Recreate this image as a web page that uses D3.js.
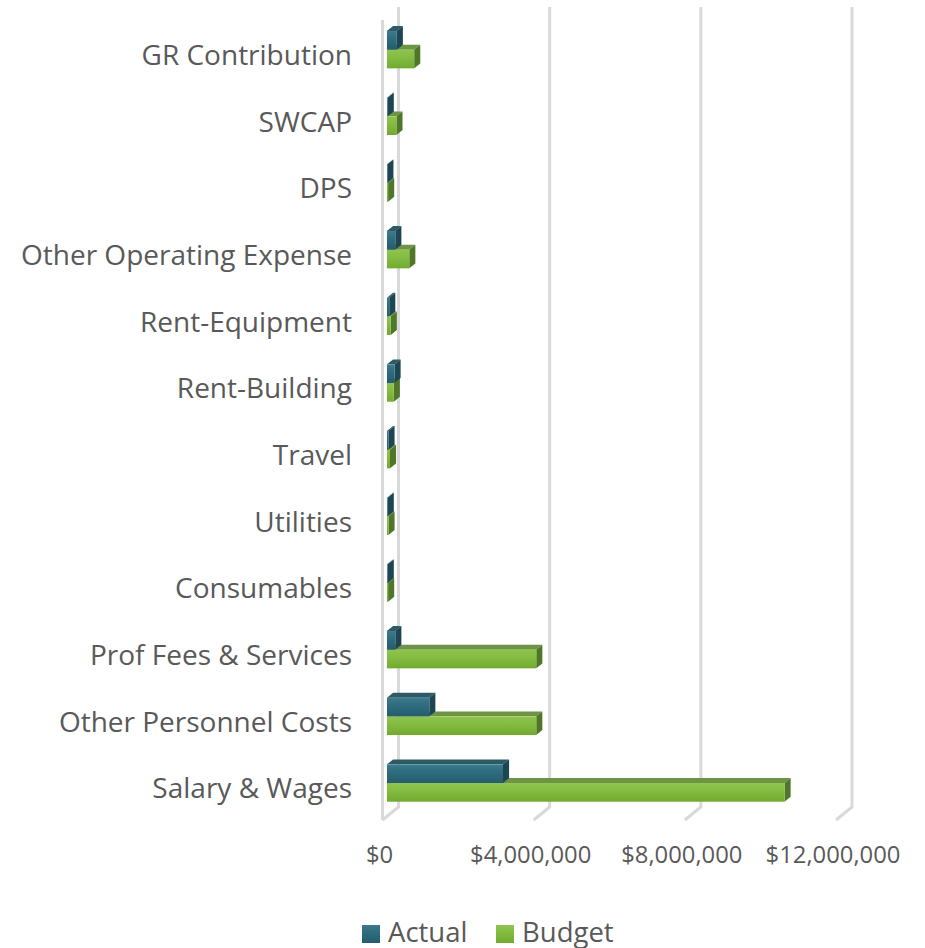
<!DOCTYPE html>
<html lang="en">
<head>
  <meta charset="utf-8" />
  <title>Actual vs Budget</title>
  <style type="text/css">
    body { margin: 0; background: #fff; }
    text { font-family: "Open Sans", sans-serif; fill: #595959; }
  </style>
</head>
<body>
  <div id="graphic"></div>

  <script src="https://cdn.jsdelivr.net/npm/d3@7/dist/d3.min.js" type="text/javascript"></script>
  <script>
    // chart data
    var categories = ["GR Contribution", "SWCAP", "DPS", "Other Operating Expense", "Rent-Equipment",
      "Rent-Building", "Travel", "Utilities", "Consumables", "Prof Fees & Services",
      "Other Personnel Costs", "Salary & Wages"];
    var actual = [260000, 20000, 10000, 220000, 60000, 200000, 40000, 20000, 20000, 220000, 1120000, 3070000];
    var budget = [720000, 250000, 30000, 590000, 100000, 180000, 80000, 40000, 30000, 3950000, 3950000, 10520000];
    var seriesNames = ["Actual", "Budget"];
    var tickValues = [0, 4000000, 8000000, 12000000];

    var width = 925, height = 948;
    var svg = d3.select('#graphic').append('svg')
      .attr('width', width).attr('height', height);

    // 3d depth of the plot box (front -> back wall)
    var depth = {dx: 16, dy: -13};
    var barDepth = {f0: 0.28, f1: 0.66};

    var x = d3.scaleLinear().domain([0, 12000000]).range([382.5, 836]);
    var y = d3.scaleBand().domain(categories).range([20, 820]).paddingInner(0.44).paddingOuter(0.22);

    var defs = svg.append('defs');
    function grad(id, stops) {
      var g = defs.append('linearGradient').attr('id', id)
        .attr('x1', 0).attr('y1', 0).attr('x2', 0).attr('y2', 1);
      stops.forEach(function(s){ g.append('stop').attr('offset', s[0]).attr('stop-color', s[1]); });
    }
    grad('gActual', [[0, '#3d7a8c'], [0.35, '#2f6e80'], [1, '#245d6d']]);
    grad('gBudget', [[0, '#8fc450'], [0.35, '#86bd43'], [1, '#72aa2f']]);

    var colours = {
      Actual: {front: 'url(#gActual)', top: '#2c5a67', side: '#1e4652'},
      Budget: {front: 'url(#gBudget)', top: '#6d9445', side: '#4f7629'}
    };

    // gridlines: back wall verticals + floor diagonals, left wall edge
    var grid = svg.append('g').attr('stroke', '#d9d9d9').attr('stroke-width', 3).attr('fill', 'none');
    var yTop = y.range()[0], yBot = y.range()[1];
    grid.selectAll('.back').data(tickValues).enter().append('path')
      .attr('d', function(d){
        var xb = x(d) + depth.dx;
        return 'M' + xb + ',' + (yTop + depth.dy) + 'V' + (yBot + depth.dy) + 'L' + x(d) + ',' + yBot;
      });
    grid.append('path').attr('d', 'M' + x(0) + ',' + yTop + 'V' + yBot);

    // bars
    var barH = y.bandwidth() / 2;
    var bars = svg.append('g');
    function drawBar(cat, value, series, idx) {
      var c = colours[series];
      var ox = barDepth.f0 * depth.dx, oy = barDepth.f0 * depth.dy;
      var bx = (barDepth.f1 - barDepth.f0) * depth.dx, by = (barDepth.f1 - barDepth.f0) * depth.dy;
      var x0 = x(0) + ox, x1 = x(value) + ox;
      var y0 = y(cat) + oy + idx * barH, y1 = y0 + barH;
      var g = bars.append('g');
      g.append('path').attr('fill', c.top)
        .attr('d', 'M' + x0 + ',' + y0 + 'L' + (x0 + bx) + ',' + (y0 + by) + 'L' + (x1 + bx) + ',' + (y0 + by) + 'L' + x1 + ',' + y0 + 'Z');
      g.append('path').attr('fill', c.side)
        .attr('d', 'M' + x1 + ',' + y0 + 'L' + (x1 + bx) + ',' + (y0 + by) + 'L' + (x1 + bx) + ',' + (y1 + by) + 'L' + x1 + ',' + y1 + 'Z');
      g.append('rect').attr('fill', c.front)
        .attr('x', x0).attr('y', y0).attr('width', Math.max(0, x1 - x0)).attr('height', barH);
    }
    categories.forEach(function(cat, i){
      drawBar(cat, budget[i], 'Budget', 1);
      drawBar(cat, actual[i], 'Actual', 0);
    });

    // category labels
    svg.append('g').selectAll('text').data(categories).enter().append('text')
      .attr('x', 352).attr('y', function(d){ return y(d) + y.bandwidth() / 2 + 2; })
      .attr('dy', '0.35em').attr('text-anchor', 'end')
      .style('font-size', '28px')
      .text(function(d){ return d; });

    // value axis labels
    var fmt = d3.format(',');
    svg.append('g').selectAll('text').data(tickValues).enter().append('text')
      .attr('x', function(d){ return x(d) - 3; }).attr('y', 855)
      .attr('dy', '0.35em').attr('text-anchor', 'middle')
      .style('font-size', '23.8px')
      .text(function(d){ return '$' + fmt(d); });

    // legend
    var legend = svg.append('g');
    var lx = [362, 496];
    seriesNames.forEach(function(s, i){
      legend.append('rect').attr('x', lx[i]).attr('y', 925).attr('width', 18).attr('height', 18)
        .attr('fill', colours[s].front);
      legend.append('text').attr('x', lx[i] + 26).attr('y', 932).attr('dy', '0.35em')
        .style('font-size', '27.5px').text(s);
    });
  </script>
</body>
</html>
